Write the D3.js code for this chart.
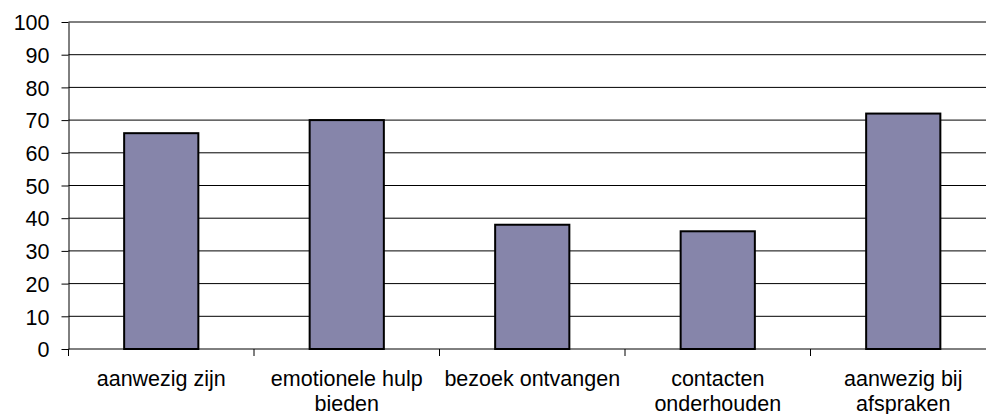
<!DOCTYPE html>
<html>
<head>
<meta charset="utf-8">
<script src="https://cdn.jsdelivr.net/npm/d3@7"></script>
<style>
	body { margin: 0; background: #fff; }
	svg text { font-family: "Liberation Sans", Arial, sans-serif; fill: #000; }
</style>
</head>
<body>
<svg id="graph"></svg>
<script>
var categories = [ "aanwezig zijn", "emotionele hulp|bieden", "bezoek ontvangen", "contacten|onderhouden", "aanwezig bij|afspraken" ];
var values     = [ 66, 70, 38, 36, 72 ];
var y_ticks    = [ 0, 10, 20, 30, 40, 50, 60, 70, 80, 90, 100 ];

var margin = { top : 22, right : -10, bottom : 65, left : 68.5 };
var full_w = 986, full_h = 414;
var width  = full_w - margin.left - margin.right;
var height = full_h - margin.top  - margin.bottom;

var svg = d3.select( "#graph" )
		.attr( "width" , full_w )
		.attr( "height", full_h )
	.append( "g" )
		.attr( "transform", "translate(" + margin.left + "," + margin.top + ")" );

var x = d3.scaleBand().domain( categories ).range([ 0, width ]).paddingInner( 0.6 ).paddingOuter( 0.3 );
var y = d3.scaleLinear().domain([ 0, 100 ]).range([ height, 0 ]);

// grid lines
svg.append( "g" )
	.selectAll( "line" )
	.data( y_ticks.slice( 1 ) )
	.enter()
		.append( "line" )
		.attr( "x1", 0 )
		.attr( "x2", width )
		.attr( "y1", function(d){ return y( d ); } )
		.attr( "y2", function(d){ return y( d ); } )
		.style( "stroke", "#000" )
		.style( "stroke-width", 1 );

// bars
svg.append( "g" )
	.selectAll( "rect" )
	.data( values )
	.enter()
		.append( "rect" )
		.attr( "x", function(d, i){ return x( categories[i] ); } )
		.attr( "y", function(d){ return y( d ); } )
		.attr( "width", x.bandwidth() )
		.attr( "height", function(d){ return height - y( d ); } )
		.style( "fill", "#8685aa" )
		.style( "stroke", "#000" )
		.style( "stroke-width", 2 );

// Y axis
var y_axis = d3.axisLeft( y ).tickValues( y_ticks ).tickSize( 7 ).tickSizeOuter( 0 );
var gy = svg.append( "g" ).attr( "class", "y axis" ).call( y_axis );
gy.select( ".domain" ).style( "stroke", "#000" );
gy.selectAll( "text" )
	.attr( "x", -19 )
	.attr( "dy", "0.36em" )
	.style( "font-size", "21.5px" );

// X axis
var x_pos = d3.scaleLinear().domain([ 0, categories.length ]).range([ 0, width ]);
var gx = svg.append( "g" ).attr( "class", "x axis" ).attr( "transform", "translate(0," + height + ")" );
gx.append( "line" ).attr( "x1", 0 ).attr( "x2", width ).style( "stroke", "#000" );
gx.selectAll( "line.tick" )
	.data( d3.range( 0, categories.length + 1 ) )
	.enter()
		.append( "line" )
		.attr( "class", "tick" )
		.attr( "x1", function(d){ return x_pos( d ); } )
		.attr( "x2", function(d){ return x_pos( d ); } )
		.attr( "y1", 0 )
		.attr( "y2", 7 )
		.style( "stroke", "#000" );

gx.selectAll( "text" )
	.data( categories )
	.enter()
		.append( "text" )
		.attr( "text-anchor", "middle" )
		.attr( "transform", function(d){ return "translate(" + ( x( d ) + x.bandwidth() / 2 ) + ",36.5)"; } )
		.style( "font-size", "21.5px" )
		.each(function(d){
			var t = d3.select( this );
			d.split( "|" ).forEach(function(line, i){
				t.append( "tspan" ).attr( "x", 0 ).attr( "dy", i ? 25 : 0 ).text( line );
			});
		});
</script>
</body>
</html>
